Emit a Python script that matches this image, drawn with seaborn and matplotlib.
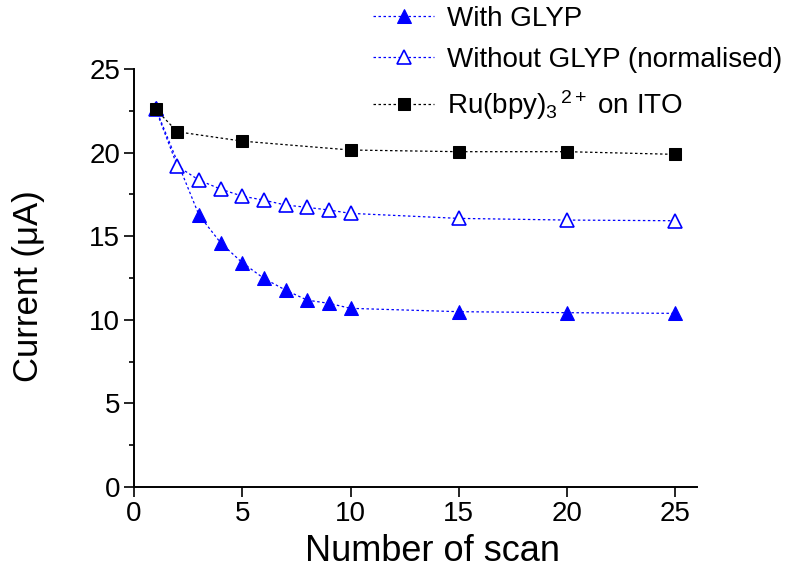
import numpy as np
import pandas as pd
import matplotlib
matplotlib.use("Agg")
import matplotlib.pyplot as plt
import seaborn as sns

# data
scan_with = [1, 3, 4, 5, 6, 7, 8, 9, 10, 15, 20, 25]
current_with = [22.65, 16.27, 14.61, 13.42, 12.48, 11.78, 11.18, 10.99, 10.69, 10.49, 10.43, 10.39]

scan_without = [1, 2, 3, 4, 5, 6, 7, 8, 9, 10, 15, 20, 25]
current_without = [22.6, 19.2, 18.36, 17.82, 17.40, 17.16, 16.87, 16.73, 16.57, 16.37, 16.07, 15.97, 15.93]

scan_ru = [1, 2, 5, 10, 15, 20, 25]
current_ru = [22.6, 21.25, 20.69, 20.16, 20.06, 20.06, 19.9]

labels = ["With GLYP", "Without GLYP (normalised)", r"Ru(bpy)$_3$$^{\,2+}$ on ITO"]

sns.set_style("ticks")
plt.rcParams["font.family"] = ["Liberation Sans", "DejaVu Sans"]
plt.rcParams["mathtext.fontset"] = "custom"
plt.rcParams["mathtext.rm"] = "Liberation Sans"
plt.rcParams["mathtext.it"] = "Liberation Sans:italic"
for k in ["text.color", "axes.labelcolor", "xtick.color", "ytick.color", "axes.edgecolor"]:
    plt.rcParams[k] = "black"

fig = plt.figure(figsize=(7.95, 5.71), dpi=100)
ax = fig.add_axes([0.1686, 0.147, 0.708, 0.732])

df_with = pd.DataFrame({"scan": scan_with, "current": current_with})
df_without = pd.DataFrame({"scan": scan_without, "current": current_without})
df_ru = pd.DataFrame({"scan": scan_ru, "current": current_ru})

sns.lineplot(data=df_with, x="scan", y="current", ax=ax, color="#0000ff",
             linestyle=(0, (2, 2)), linewidth=0.9, marker="^", markersize=10,
             markerfacecolor="#0000ff", markeredgecolor="#0000ff", label=labels[0])
sns.lineplot(data=df_without, x="scan", y="current", ax=ax, color="#0000ff",
             linestyle=(0, (2, 2)), linewidth=0.9, marker="^", markersize=10,
             markerfacecolor="white", markeredgecolor="#0000ff", markeredgewidth=1.2,
             label=labels[1])
sns.lineplot(data=df_ru, x="scan", y="current", ax=ax, color="black",
             linestyle=(0, (2, 2)), linewidth=0.9, marker="s", markersize=8,
             markerfacecolor="black", markeredgecolor="black", label=labels[2])

ax.set_xlim(0, 26)
ax.set_ylim(0, 25)
ax.set_xticks([0, 5, 10, 15, 20, 25])
ax.set_yticks([0, 5, 10, 15, 20, 25])
ax.set_yticks(np.arange(2.5, 25, 5), minor=True)
ax.tick_params(axis="both", which="major", labelsize=20, length=7, width=1.2, direction="out")
ax.tick_params(axis="x", which="major", pad=3)
ax.tick_params(axis="y", which="major", pad=3)
ax.tick_params(axis="y", which="minor", length=3.5, width=1.2)
for s in ["left", "bottom"]:
    ax.spines[s].set_linewidth(1.4)
sns.despine(ax=ax)

ax.set_xlabel("Number of scan", fontsize=26)
ax.set_ylabel("Current (\u03bcA)", fontsize=25)
ax.xaxis.set_label_coords(0.531, -0.113)
ax.yaxis.set_label_coords(-0.158, 0.48)

handles, labs = ax.get_legend_handles_labels()
ax.get_legend().remove()
fig.legend(handles, labs, loc="upper left", bbox_to_anchor=(0.466, 0.995),
           frameon=False, fontsize=20, handlelength=2.2, handletextpad=0.45,
           labelspacing=0.55, borderaxespad=0.0, borderpad=0.1)

fig.savefig("out.png", dpi=100)
